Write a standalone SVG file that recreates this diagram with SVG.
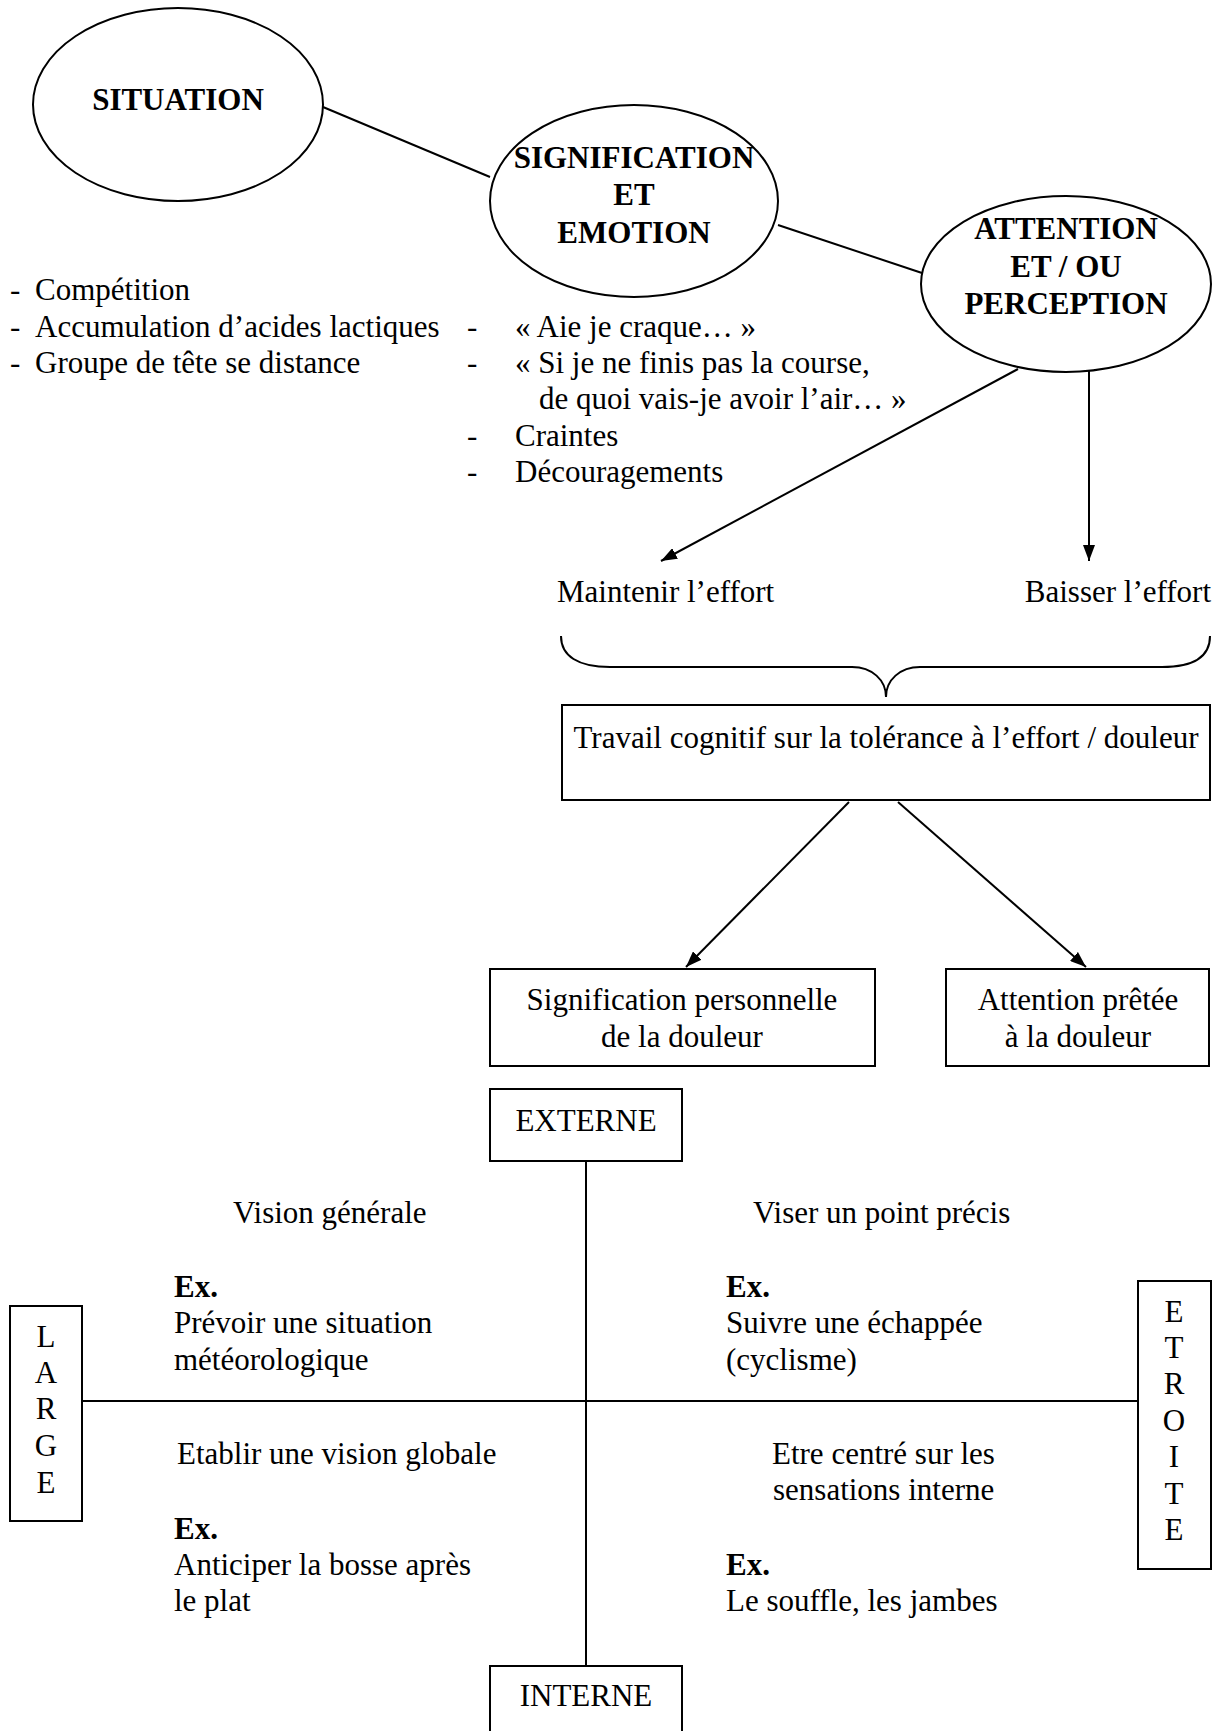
<svg xmlns="http://www.w3.org/2000/svg" width="1223" height="1731" viewBox="0 0 1223 1731">
<style>
text{font-family:"Liberation Serif","Times New Roman",serif;font-size:31px;fill:#000}
.b{font-weight:bold}
.c{text-anchor:middle}
.s{fill:#fff;stroke:#000;stroke-width:2}
.l{fill:none;stroke:#000;stroke-width:2}
</style>
<defs>
<marker id="ah" viewBox="0 0 16 12" refX="16" refY="6" markerWidth="16" markerHeight="12" markerUnits="userSpaceOnUse" orient="auto">
<path d="M0,0 L16,6 L0,12 Z" fill="#000"/>
</marker>
</defs>
<rect width="1223" height="1731" fill="#fff"/>
<g id="connectors">
<line class="l" x1="323" y1="107" x2="490" y2="177"/>
<line class="l" x1="778" y1="225" x2="922" y2="273"/>
<line class="l" x1="1018" y1="369" x2="661" y2="561" marker-end="url(#ah)"/>
<line class="l" x1="1089" y1="371" x2="1089" y2="561" marker-end="url(#ah)"/>
<path class="l" d="M561,636 C561,656 578,667 610,667 L852,667 C872,667 886,680 886,697 C886,680 900,667 920,667 L1162,667 C1194,667 1210,656 1210,636"/>
<line class="l" x1="849" y1="802" x2="686" y2="967" marker-end="url(#ah)"/>
<line class="l" x1="898" y1="802" x2="1086" y2="967" marker-end="url(#ah)"/>
<line class="l" x1="586" y1="1161" x2="586" y2="1666"/>
<line class="l" x1="82" y1="1401" x2="1138" y2="1401"/>
</g>
<g id="situation">
<ellipse class="s" cx="178" cy="104.5" rx="145" ry="96.5"/>
<text class="b c" x="178" y="110">SITUATION</text>
</g>
<g id="signification">
<ellipse class="s" cx="634" cy="201" rx="144" ry="96"/>
<text class="b c" x="634" y="168">SIGNIFICATION</text>
<text class="b c" x="634" y="205">ET</text>
<text class="b c" x="634" y="243">EMOTION</text>
</g>
<g id="attention">
<ellipse class="s" cx="1066" cy="284" rx="145" ry="88"/>
<text class="b c" x="1066" y="239">ATTENTION</text>
<text class="b c" x="1066" y="277">ET / OU</text>
<text class="b c" x="1066" y="314">PERCEPTION</text>
</g>
<g id="situation-list">
<text x="10" y="300">-</text><text x="35" y="300">Compétition</text>
<text x="10" y="337">-</text><text x="35" y="337">Accumulation d’acides lactiques</text>
<text x="10" y="373">-</text><text x="35" y="373">Groupe de tête se distance</text>
</g>
<g id="emotion-list">
<text x="467" y="337">-</text><text x="515" y="337">« Aie je craque… »</text>
<text x="467" y="373">-</text><text x="515" y="373">« Si je ne finis pas la course,</text>
<text x="539" y="409">de quoi vais-je avoir l’air… »</text>
<text x="467" y="446">-</text><text x="515" y="446">Craintes</text>
<text x="467" y="482">-</text><text x="515" y="482">Découragements</text>
</g>
<g id="maintenir"><text x="557" y="602">Maintenir l’effort</text></g>
<g id="baisser"><text x="1211" y="602" text-anchor="end">Baisser l’effort</text></g>
<g id="travail">
<rect class="s" x="562" y="705" width="648" height="95"/>
<text class="c" x="886" y="748">Travail cognitif sur la tolérance à l’effort / douleur</text>
</g>
<g id="signification-personnelle">
<rect class="s" x="490" y="969" width="385" height="97"/>
<text class="c" x="682" y="1010">Signification personnelle</text>
<text class="c" x="682" y="1047">de la douleur</text>
</g>
<g id="attention-pretee">
<rect class="s" x="946" y="969" width="263" height="97"/>
<text class="c" x="1078" y="1010">Attention prêtée</text>
<text class="c" x="1078" y="1047">à la douleur</text>
</g>
<g id="externe">
<rect class="s" x="490" y="1089" width="192" height="72"/>
<text class="c" x="586" y="1131">EXTERNE</text>
</g>
<g id="interne">
<rect class="s" x="490" y="1666" width="192" height="80"/>
<text class="c" x="586" y="1706">INTERNE</text>
</g>
<g id="large">
<rect class="s" x="10" y="1306" width="72" height="215"/>
<text class="c" x="46" y="1347">L</text>
<text class="c" x="46" y="1383">A</text>
<text class="c" x="46" y="1419">R</text>
<text class="c" x="46" y="1456">G</text>
<text class="c" x="46" y="1493">E</text>
</g>
<g id="etroite">
<rect class="s" x="1138" y="1281" width="73" height="288"/>
<text class="c" x="1174" y="1322">E</text>
<text class="c" x="1174" y="1358">T</text>
<text class="c" x="1174" y="1394">R</text>
<text class="c" x="1174" y="1431">O</text>
<text class="c" x="1174" y="1467">I</text>
<text class="c" x="1174" y="1504">T</text>
<text class="c" x="1174" y="1540">E</text>
</g>
<g id="quadrant-large-externe">
<text x="233" y="1223">Vision générale</text>
<text class="b" x="174" y="1297">Ex.</text>
<text x="174" y="1333">Prévoir une situation</text>
<text x="174" y="1370">météorologique</text>
</g>
<g id="quadrant-large-interne">
<text x="177" y="1464">Etablir une vision globale</text>
<text class="b" x="174" y="1539">Ex.</text>
<text x="174" y="1575">Anticiper la bosse après</text>
<text x="174" y="1611">le plat</text>
</g>
<g id="quadrant-etroite-externe">
<text x="753" y="1223">Viser un point précis</text>
<text class="b" x="726" y="1297">Ex.</text>
<text x="726" y="1333">Suivre une échappée</text>
<text x="726" y="1370">(cyclisme)</text>
</g>
<g id="quadrant-etroite-interne">
<text x="772" y="1464">Etre centré sur les</text>
<text x="773" y="1500">sensations interne</text>
<text class="b" x="726" y="1575">Ex.</text>
<text x="726" y="1611">Le souffle, les jambes</text>
</g>
</svg>
